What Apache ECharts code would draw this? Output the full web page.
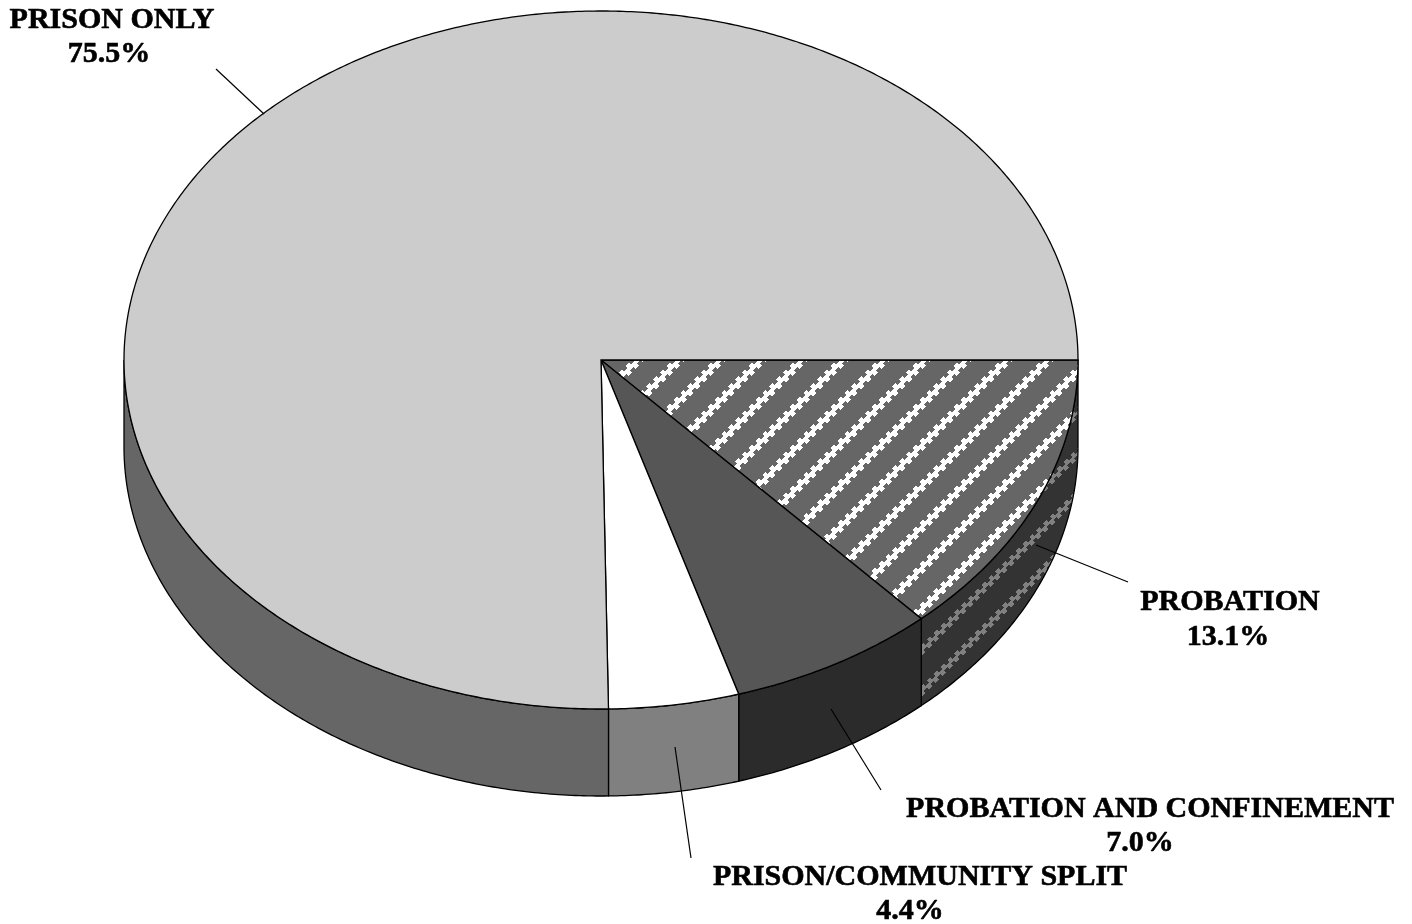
<!DOCTYPE html>
<html>
<head>
<meta charset="utf-8">
<style>html,body{margin:0;padding:0;background:#fff}#c{width:1412px;height:924px}</style>
<script src="https://cdn.jsdelivr.net/npm/echarts@6/dist/echarts.min.js"></script>
</head>
<body>
<div id="c"></div>
<script>
// Data (clockwise from 3 o'clock)
const categories = ['PROBATION', 'PROBATION AND CONFINEMENT', 'PRISON/COMMUNITY SPLIT', 'PRISON ONLY'];
const values = [13.1, 7.0, 4.4, 75.5];

// Layout & style, separate from data
const PIE = { cx: 601, cy: 360, rx: 477, ry: 349, depth: 87, warp: 0.9 };
const topFill = ['hatchTop', '#565656', '#ffffff', '#cccccc'];
const sideFill = ['hatchSide', '#2b2b2b', '#808080', '#666666'];
const labelPos = [[1230, 602], [1150, 809], [920, 877], [112, 20]];
const pctPos = [[1228, 637], [1140, 843], [910, 911], [109, 54]];
const leaders = [[[1036, 545], [1128, 582]], [[831, 709], [881, 790]], [[675, 747], [691, 858]], [[216, 69], [264, 114]]];
const FONT = 'bold 30px "Liberation Serif"';

function hatch(bg, fg, halfWidth) {
  const P = 41, cv = document.createElement('canvas');
  cv.width = P; cv.height = P;
  const g = cv.getContext('2d'), im = g.createImageData(P, P);
  const toRgb = h => [parseInt(h.slice(1, 3), 16), parseInt(h.slice(3, 5), 16), parseInt(h.slice(5, 7), 16)];
  const B = toRgb(bg), F = toRgb(fg);
  for (let y = 0; y < P; y++) for (let x = 0; x < P; x++) {
    const jag = Math.sin(2 * Math.PI * 3 * (x - y) / P) > 0 ? 2 : -2;
    let d = ((x + y - 13 + jag) % P + P) % P;
    if (d > P / 2) d -= P;
    const c = Math.abs(d) <= halfWidth ? F : B, k = (y * P + x) * 4;
    im.data[k] = c[0]; im.data[k + 1] = c[1]; im.data[k + 2] = c[2]; im.data[k + 3] = 255;
  }
  g.putImageData(im, 0, 0);
  return { image: cv, repeat: 'repeat' };
}
const fills = { hatchTop: hatch('#666666', '#ffffff', 4), hatchSide: hatch('#333333', '#808080', 3) };
const paint = f => fills[f] || f;

const rad = d => d * Math.PI / 180;
const warped = d => d + PIE.warp * Math.sin(rad(d));          // slight perspective shift of slice edges
const pt = (d, dy) => [PIE.cx + PIE.rx * Math.cos(rad(warped(d))), PIE.cy + PIE.ry * Math.sin(rad(warped(d))) + (dy || 0)];
function arc(a0, a1, dy) {
  const out = [], n = Math.max(2, Math.ceil(Math.abs(a1 - a0) * 2));
  for (let i = 0; i <= n; i++) out.push(pt(a0 + (a1 - a0) * i / n, dy));
  return out;
}
const total = values.reduce((a, b) => a + b, 0);

function renderItem(params, api) {
  const i = api.value(0), v = api.value(1);
  let start = 0;
  for (let k = 0; k < i; k++) start += values[k];
  const a0 = start / total * 360, a1 = (start + v) / total * 360;
  const children = [];
  const edge = { stroke: '#000', lineWidth: 1.3 };
  // visible rim: only the front half of the ellipse
  const s0 = Math.max(a0, 0), s1 = Math.min(a1, 180);
  if (s1 > s0) {
    const pts = arc(s0, s1, 0).concat(arc(s1, s0, PIE.depth));
    children.push({ type: 'polygon', z2: 1, shape: { points: pts }, style: Object.assign({ fill: paint(sideFill[i]) }, edge) });
  }
  // top face
  children.push({
    type: 'polygon', z2: 2,
    shape: { points: [[PIE.cx, PIE.cy]].concat(arc(a0, a1, 0)) },
    style: Object.assign({ fill: paint(topFill[i]) }, edge)
  });
  // leader
  const L = leaders[i];
  children.push({ type: 'line', z2: 5, shape: { x1: L[0][0], y1: L[0][1], x2: L[1][0], y2: L[1][1] }, style: { stroke: '#000', lineWidth: 1.2 } });
  // labels
  const txt = (t, p) => ({ type: 'text', z2: 6, style: { text: t, x: p[0], y: p[1], align: 'center', verticalAlign: 'middle', font: FONT, fill: '#000', stroke: '#000', lineWidth: 0.6 } });
  children.push(txt(categories[i], labelPos[i]));
  children.push(txt(v.toFixed(1) + '%', pctPos[i]));
  return { type: 'group', children };
}

const chart = echarts.init(document.getElementById('c'), null, { renderer: 'canvas', devicePixelRatio: 1 });
chart.setOption({
  animation: false,
  backgroundColor: '#ffffff',
  series: [{
    type: 'custom',
    coordinateSystem: 'none',
    silent: true,
    renderItem,
    data: values.map((v, i) => [i, v])
  }]
});
</script>
</body>
</html>
